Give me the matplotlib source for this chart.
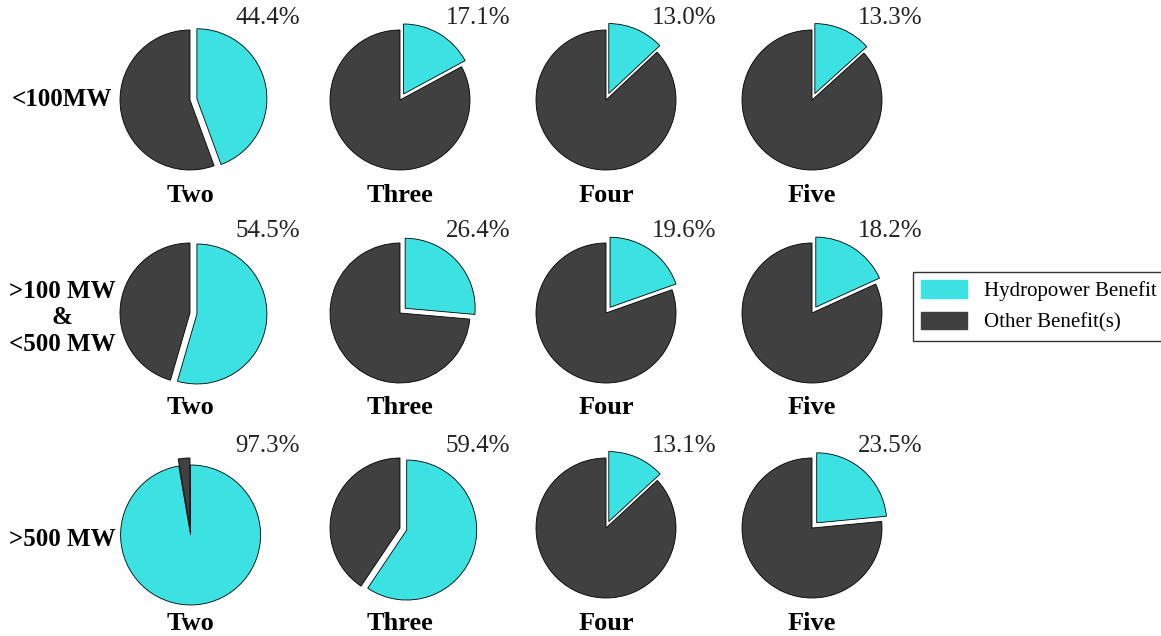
import matplotlib
matplotlib.use('Agg')
import matplotlib.pyplot as plt
from matplotlib.patches import Patch
from matplotlib import rcParams

rcParams['font.family'] = 'Liberation Serif'

# data: share of hydropower benefit (%) per size class and number of benefits
row_labels = ['<100MW', '>100 MW\n&\n<500 MW', '>500 MW']
col_labels = ['Two', 'Three', 'Four', 'Five']
hydro_small = [44.4, 17.1, 13.0, 13.3]
hydro_mid = [54.5, 26.4, 19.6, 18.2]
hydro_large = [97.3, 59.4, 13.1, 23.5]
hydro_rows = [hydro_small, hydro_mid, hydro_large]

cyan = '#3ce2e2'
dark = '#404040'

W, H = 1161, 636
fig = plt.figure(figsize=(W / 100, H / 100), dpi=100)

# pie centres in pixels
col_x = [190, 400, 606, 812]
row_y = [100, 313, 528]
label_dy = [0, 5, 11]
r_px = 70
lim = 1.3
box = 2 * lim * r_px

for i, vals in enumerate(hydro_rows):
    for j, h in enumerate(vals):
        cx, cy = col_x[j], row_y[i]
        ax = fig.add_axes([(cx - box / 2) / W, 1 - (cy + box / 2) / H, box / W, box / H])
        ax.pie([h, 100 - h], colors=[cyan, dark], startangle=90, counterclock=False,
               explode=[0.1, 0], radius=1,
               wedgeprops=dict(edgecolor='black', linewidth=0.6))
        ax.set_xlim(-lim, lim)
        ax.set_ylim(-lim, lim)
        ax.set_aspect('equal')
        ax.axis('off')
        fig.text((cx + 78) / W, 1 - (cy - 82) / H, f'{h:.1f}%', ha='center', va='center',
                 fontsize=18, color='#222222')
        fig.text(cx / W, 1 - (cy + 95) / H, col_labels[j], ha='center', va='center',
                 fontsize=19, fontweight='bold')

for i, lab in enumerate(row_labels):
    y = row_y[i] + label_dy[i]
    fig.text(62 / W, 1 - y / H, lab, ha='center', va='center', fontsize=18,
             fontweight='bold', linespacing=1.18)

handles = [Patch(facecolor=cyan, edgecolor=cyan, label='Hydropower Benefit'),
           Patch(facecolor=dark, edgecolor=dark, label='Other Benefit(s)')]
leg = fig.legend(handles=handles, loc='upper left', bbox_to_anchor=(913 / W, 1 - 272 / H),
                 borderaxespad=0, frameon=True, fancybox=False, fontsize=15,
                 handlelength=2.2, handleheight=0.9, edgecolor='black')
leg.get_frame().set_linewidth(1.0)

fig.savefig('out.png', dpi=100)
